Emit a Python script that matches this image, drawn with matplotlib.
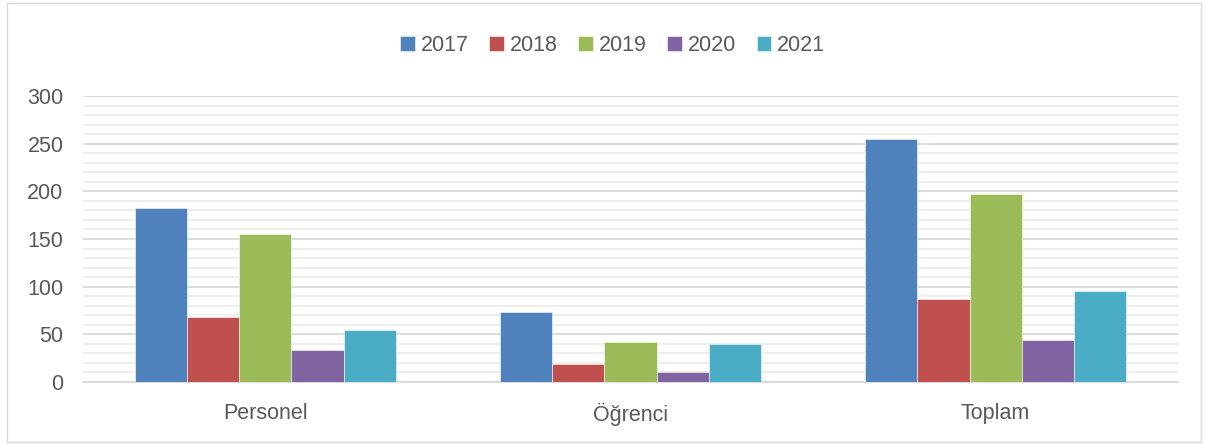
import numpy as np
import matplotlib.pyplot as plt
from matplotlib.patches import Rectangle

categories = ["Personel", "Öğrenci", "Toplam"]
years = ["2017", "2018", "2019", "2020", "2021"]
v2017 = [182, 73, 255]
v2018 = [68, 19, 87]
v2019 = [155, 42, 197]
v2020 = [34, 10, 44]
v2021 = [55, 40, 95]
series = [v2017, v2018, v2019, v2020, v2021]
colors = ["#4F81BD", "#C0504D", "#9BBB59", "#8064A2", "#4BACC6"]

plt.rcParams["font.family"] = ["Liberation Sans", "DejaVu Sans"]
text_color = "#595959"

fig = plt.figure(figsize=(12.06, 4.44), dpi=100)
ax = fig.add_axes([0.0688, 0.1396, 0.9080, 0.6442])

x = np.arange(len(categories))
w = 0.1425
for i, (vals, col, yr) in enumerate(zip(series, colors, years)):
    ax.bar(x + (i - 2) * w, vals, width=w, color=col, label=yr,
           edgecolor="white", linewidth=0.4, zorder=3)

ax.set_xlim(-0.5, 2.5)
ax.set_ylim(0, 300)
ax.set_yticks(np.arange(0, 301, 50))
ax.set_yticks(np.arange(0, 301, 10), minor=True)
ax.grid(axis="y", which="major", color="#d9d9d9", linewidth=1.3, zorder=0)
ax.grid(axis="y", which="minor", color="#ededed", linewidth=1.3, zorder=0)
ax.set_xticks(x)
ax.set_xticklabels(categories)
ax.tick_params(axis="both", which="both", length=0, labelsize=15.5, colors=text_color)
ax.tick_params(axis="y", pad=14)
ax.tick_params(axis="x", pad=15)
for s in ["top", "right", "left"]:
    ax.spines[s].set_visible(False)
ax.spines["bottom"].set_color("#d9d9d9")
ax.spines["bottom"].set_linewidth(1.3)

leg = fig.legend(loc="center", bbox_to_anchor=(0.508, 0.897), ncol=5, frameon=False,
                 fontsize=15.5, handlelength=0.68, handleheight=0.68,
                 handletextpad=0.28, columnspacing=0.95)
for t in leg.get_texts():
    t.set_color(text_color)

fig.patches.append(Rectangle((0.006, 0.004), 0.99, 0.99, transform=fig.transFigure,
                             fill=False, edgecolor="#d9d9d9", linewidth=1))

plt.savefig("out.png", dpi=100)
